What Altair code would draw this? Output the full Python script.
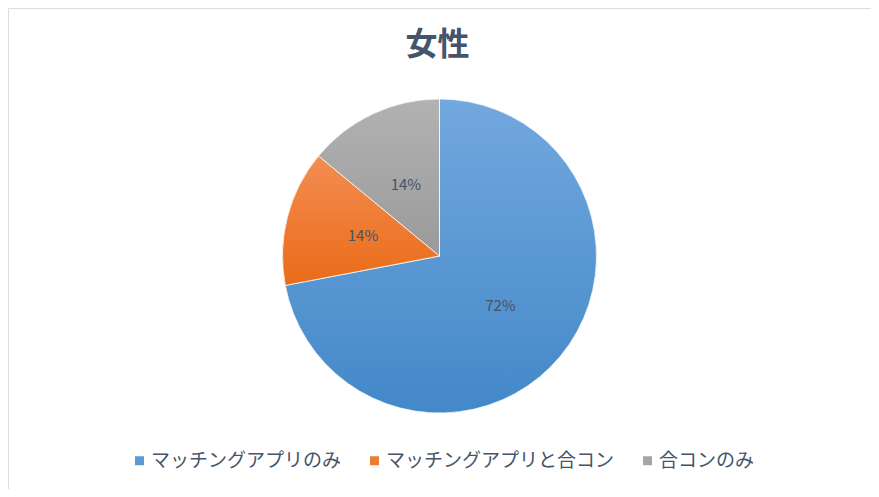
import altair as alt
import pandas as pd

categories = ["マッチングアプリのみ", "マッチングアプリと合コン", "合コンのみ"]
values = [72, 14, 14]
labels = ["72%", "14%", "14%"]
solid_colors = ["#5b9bd5", "#ed7d31", "#a5a5a5"]
grad_top = ["#72a8de", "#f38d52", "#b2b2b2"]
grad_bottom = ["#4388c8", "#ea6b18", "#9a9a9a"]
title_text = "女性"

df = pd.DataFrame({
    "cat": categories,
    "value": values,
    "label": labels,
    "idx": list(range(len(categories))),
})

FONT = "Noto Sans CJK JP"
TEXT_COLOR = "#44546a"
CX, CY, R = 431.5, 248, 157


def grad(i):
    return {
        "gradient": "linear",
        "x1": 0, "y1": 0, "x2": 0, "y2": 1,
        "stops": [
            {"offset": 0, "color": grad_top[i]},
            {"offset": 1, "color": grad_bottom[i]},
        ],
    }


base = alt.Chart(df).encode(
    theta=alt.Theta("value:Q", stack=True),
    order=alt.Order("idx:Q"),
    x=alt.value(CX),
    y=alt.value(CY),
)

legend_layer = base.mark_arc(radius=R).encode(
    color=alt.Color(
        "cat:N",
        scale=alt.Scale(domain=categories, range=solid_colors),
        legend=alt.Legend(
            orient="none",
            legendX=122,
            legendY=443,
            direction="horizontal",
            title=None,
            symbolType="square",
            symbolSize=81,
            symbolStrokeWidth=0,
            labelFont=FONT,
            labelFontSize=19,
            labelColor=TEXT_COLOR,
            labelOffset=2,
            columnPadding=23,
            padding=0,
            labelLimit=400,
        ),
    )
)

grad_layer = base.mark_arc(radius=R, stroke="white", strokeWidth=0.8).encode(
    color={
        "condition": [
            {"test": "datum.idx == 0", "value": grad(0)},
            {"test": "datum.idx == 1", "value": grad(1)},
        ],
        "value": grad(2),
    }
)

text_layer = base.mark_text(radius=79, font=FONT, fontSize=15, color=TEXT_COLOR).encode(
    text="label:N"
)

title_layer = alt.Chart(pd.DataFrame({"t": [title_text]})).mark_text(
    font=FONT, fontSize=32, fontWeight="bold", color=TEXT_COLOR, baseline="middle", align="center"
).encode(
    text="t:N",
    x=alt.value(429.5),
    y=alt.value(37),
)

chart = alt.layer(legend_layer, grad_layer, text_layer, title_layer).properties(
    width=863,
    height=481,
    autosize=alt.AutoSizeParams(type="none"),
    padding=0,
    background="white",
).configure_view(stroke="#d9dde4", strokeWidth=1)

chart.save("out.html", embed_options={"renderer": "svg", "actions": False})
